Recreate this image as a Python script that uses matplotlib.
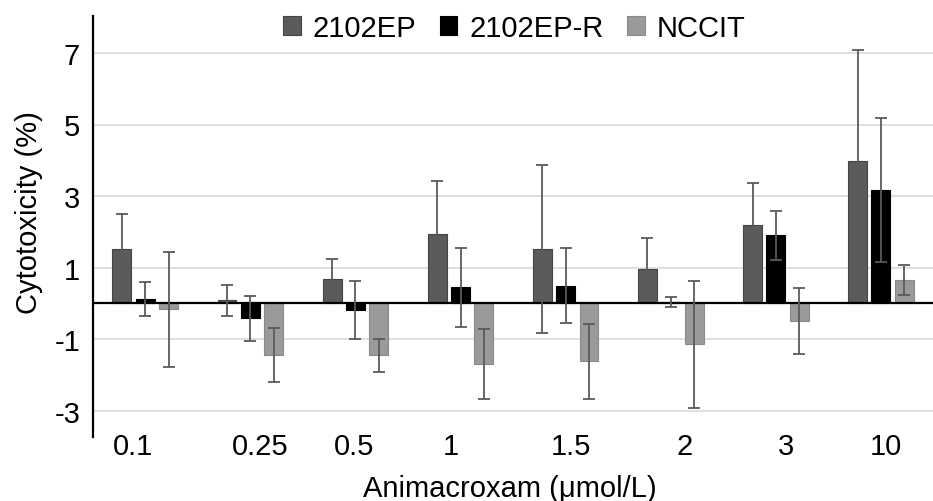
import matplotlib
matplotlib.use("Agg")
import matplotlib.pyplot as plt
import numpy as np

plt.rcParams['font.family'] = ['Liberation Sans', 'DejaVu Sans']
plt.rcParams['axes.unicode_minus'] = False

categories = ["0.1", "0.25", "0.5", "1", "1.5", "2", "3", "10"]
series_names = ["2102EP", "2102EP-R", "NCCIT"]
ep_vals = [1.51, 0.09, 0.67, 1.93, 1.52, 0.97, 2.20, 3.97]
ep_err = [0.98, 0.43, 0.58, 1.50, 2.34, 0.85, 1.16, 3.11]
epr_vals = [0.13, -0.42, -0.18, 0.45, 0.49, 0.05, 1.90, 3.17]
epr_err = [0.47, 0.64, 0.82, 1.10, 1.05, 0.14, 0.69, 2.02]
nccit_vals = [-0.16, -1.44, -1.45, -1.70, -1.62, -1.14, -0.49, 0.65]
nccit_err = [1.61, 0.76, 0.47, 0.98, 1.04, 1.77, 0.91, 0.42]
y_ticks = [-3, -1, 1, 3, 5, 7]

# style
colors = ["#5b5b5b", "#000000", "#9a9a9a"]
edges = ["#444444", "#000000", "#8a8a8a"]
tick_label_shift = [-0.114, 0.089, -0.01, -0.089, 0.05, 0.136, 0.092, 0.048]
FS = 21

fig = plt.figure(figsize=(9.33, 5.02), dpi=100)
ax = fig.add_axes([92.7/933, 1-438.3/502, (933.5-92.7)/933, (438.3-16.7)/502])

x = np.arange(len(categories))
width = 0.18
step = 0.222
all_vals = [ep_vals, epr_vals, nccit_vals]
all_err = [ep_err, epr_err, nccit_err]
for i, (vals, errs) in enumerate(zip(all_vals, all_err)):
    ax.bar(x + (i-1)*step, vals, width=width, color=colors[i], edgecolor=edges[i],
           linewidth=0.8, label=series_names[i], zorder=2,
           yerr=errs, error_kw=dict(ecolor="#5a5a5a", elinewidth=1.3, capsize=4.5,
                                    capthick=1.3, zorder=4))

ax.axhline(0, color="black", lw=1.6, zorder=3)
ax.set_xlim(-0.5, len(categories)-0.5)
ax.set_ylim(-3.74, 8.04)
ax.set_yticks(y_ticks)
ax.set_yticklabels([str(v) for v in y_ticks], fontsize=FS)
ax.yaxis.grid(True, color="#d9d9d9", lw=1.2, zorder=0)
ax.set_axisbelow(True)
ax.set_xticks(x + np.array(tick_label_shift))
ax.set_xticklabels(categories, fontsize=FS)
ax.tick_params(axis='both', length=0)
ax.tick_params(axis='y', pad=9)
ax.tick_params(axis='x', pad=-4)
for s in ["top", "right", "bottom"]:
    ax.spines[s].set_visible(False)
ax.spines["left"].set_linewidth(1.6)
ax.spines["left"].set_color("black")

fig.text(510/933, 1-497/502, "Animacroxam (μmol/L)", fontsize=FS, ha="center", va="baseline")
fig.text(29/933, 1-212.5/502, "Cytotoxicity (%)", fontsize=FS, ha="center", va="center", rotation=90)

leg = fig.legend(loc="upper left", bbox_to_anchor=(283/933, 1-15/502), ncol=3, frameon=False,
                 fontsize=FS, handlelength=0.6, handleheight=0.6, handletextpad=0.42,
                 columnspacing=0.8, borderpad=0, borderaxespad=0)

fig.savefig("out.png", dpi=100)
